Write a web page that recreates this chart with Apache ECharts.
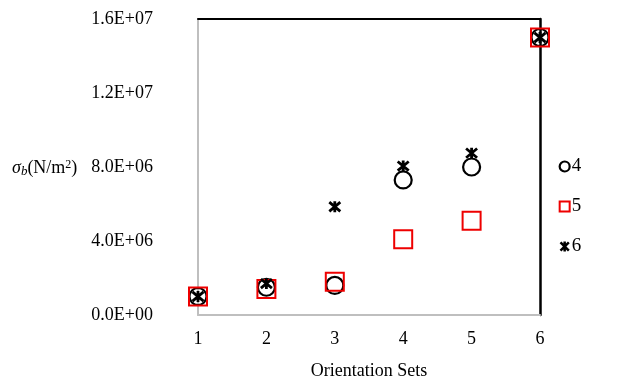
<!DOCTYPE html>
<html><head><meta charset="utf-8">
<script src="https://cdn.jsdelivr.net/npm/echarts@6/dist/echarts.min.js"></script>
<style>html,body{margin:0;padding:0;background:#fff}#c{width:617px;height:385px}</style>
</head><body><div id="c"></div>
<script>
const categories = [1, 2, 3, 4, 5, 6];
const series4 = [1.0e6, 1.5e6, 1.6e6, 7.3e6, 8.0e6, 1.5e7];
const series5 = [1.0e6, 1.4e6, 1.8e6, 4.1e6, 5.1e6, 1.5e7];
const series6 = [1.0e6, 1.7e6, 5.85e6, 8.05e6, 8.75e6, 1.5e7];
const yTickLabels = ['0.0E+00', '4.0E+06', '8.0E+06', '1.2E+07', '1.6E+07'];
const seriesNames = ['4', '5', '6'];

const font = 'Liberation Serif';
const starPath = 'path://M0,0L10,10M10,0L0,10M5,-1L5,11';
const pair = arr => arr.map((v, i) => [categories[i], v]);

const chart = echarts.init(document.getElementById('c'));
chart.setOption({
  animation: false,
  grid: { left: 198, right: 77, top: 19, bottom: 70 },
  legend: {
    orient: 'vertical', left: 553, top: 152, itemGap: 21,
    itemWidth: 10, itemHeight: 10,
    textStyle: { fontFamily: font, fontSize: 19, color: '#000', padding: [0, 0, 0, -3] },
    data: [
      { name: '4', icon: 'circle', itemStyle: { color: '#fff', borderColor: '#000', borderWidth: 2.2, opacity: 1 } },
      { name: '5', icon: 'rect', itemStyle: { color: '#fff', borderColor: '#e00', borderWidth: 2, opacity: 1 } },
      { name: '6', icon: starPath, itemStyle: { color: 'none', borderColor: '#000', borderWidth: 2.5, opacity: 1 } }
    ]
  },
  xAxis: [{
    type: 'value', min: 1, max: 6, interval: 1,
    name: 'Orientation Sets', nameLocation: 'middle', nameGap: 47,
    nameTextStyle: { fontFamily: font, fontSize: 18, color: '#000' },
    axisLine: { onZero: false, lineStyle: { color: '#bfbfbf', width: 2 } },
    axisTick: { show: false },
    splitLine: { show: false },
    axisLabel: { fontFamily: font, fontSize: 18, color: '#000', margin: 15 }
  }, {
    type: 'value', min: 1, max: 6, position: 'top',
    axisLine: { show: true, onZero: false, lineStyle: { color: '#000', width: 2 } },
    axisTick: { show: false }, axisLabel: { show: false }, splitLine: { show: false }
  }],
  yAxis: [{
    type: 'value', min: 0, max: 1.6e7, interval: 4e6,
    axisLine: { show: true, onZero: false, lineStyle: { color: '#bfbfbf', width: 2 } },
    axisTick: { show: false },
    splitLine: { show: false },
    axisLabel: {
      fontFamily: font, fontSize: 18, color: '#000', margin: 45,
      formatter: v => yTickLabels[Math.round(v / 4e6)]
    }
  }, {
    type: 'value', min: 0, max: 1.6e7, position: 'right',
    axisLine: { show: true, onZero: false, lineStyle: { color: '#000', width: 2.5 } },
    axisTick: { show: false }, axisLabel: { show: false }, splitLine: { show: false }
  }],
  graphic: [{
    type: 'text', left: 12, top: 159,
    style: {
      text: '{i|σ}{s|b}{n|(N/m}{p|2}{n|)}',
      rich: {
        i: { fontFamily: font, fontSize: 18, fontStyle: 'italic', fill: '#000' },
        s: { fontFamily: font, fontSize: 13, fontStyle: 'italic', fill: '#000', verticalAlign: 'bottom', padding: [6, 0, 0, 0] },
        n: { fontFamily: font, fontSize: 18, fill: '#000' },
        p: { fontFamily: font, fontSize: 12, fill: '#000', verticalAlign: 'top', padding: [0, 0, 6, 0] }
      }
    }
  }],
  series: [{
    name: '4', type: 'scatter', data: pair(series4), symbol: 'circle', symbolSize: 17,
    itemStyle: { color: 'rgba(255,255,255,0)', borderColor: '#000', borderWidth: 2.2, opacity: 1 }
  }, {
    name: '5', type: 'scatter', data: pair(series5), symbol: 'rect', symbolSize: 18,
    itemStyle: { color: 'rgba(255,255,255,0)', borderColor: '#e00', borderWidth: 2, opacity: 1 }
  }, {
    name: '6', type: 'scatter', data: pair(series6), symbol: starPath, symbolSize: 11,
    itemStyle: { color: 'none', borderColor: '#000', borderWidth: 2.8, opacity: 1 }
  }]
});
</script></body></html>
